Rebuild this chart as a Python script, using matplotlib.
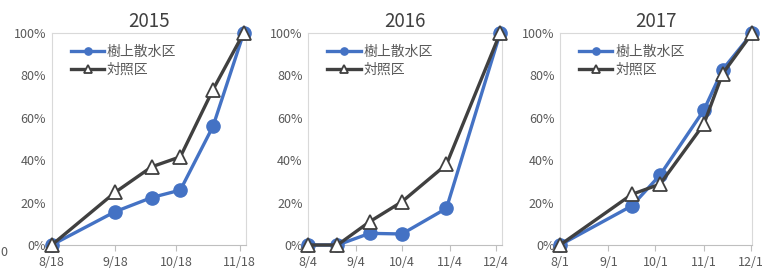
import matplotlib
matplotlib.use("Agg")
import matplotlib.pyplot as plt
import pandas as pd

plt.rcParams['font.family'] = ['Noto Sans CJK JP', 'DejaVu Sans']

years = ['2015', '2016', '2017']

# survey dates per year
dates_2015 = ['2015-08-18', '2015-09-18', '2015-10-06', '2015-10-20', '2015-11-05', '2015-11-20']
dates_2016 = ['2016-08-04', '2016-08-23', '2016-09-13', '2016-10-04', '2016-11-02', '2016-12-07']
dates_2017 = ['2017-08-01', '2017-09-16', '2017-10-04', '2017-11-01', '2017-11-13', '2017-12-02']

# cumulative ratio (%)
spray_2015 = [0, 15.7, 22.4, 25.9, 56.0, 100]
control_2015 = [0, 24.8, 36.9, 41.6, 73.3, 100]
spray_2016 = [0, 0, 5.5, 5.2, 17.3, 100]
control_2016 = [0, 0, 11.0, 20.4, 38.0, 100]
spray_2017 = [0, 18.5, 33.0, 63.6, 82.7, 100]
control_2017 = [0, 23.9, 28.7, 57.0, 80.8, 100]

tick_dates_2015 = ['2015-08-18', '2015-09-18', '2015-10-18', '2015-11-18']
tick_dates_2016 = ['2016-08-04', '2016-09-04', '2016-10-04', '2016-11-04', '2016-12-04']
tick_dates_2017 = ['2017-08-01', '2017-09-01', '2017-10-01', '2017-11-01', '2017-12-01']

x_ends = [('2015-08-18', '2015-11-21'), ('2016-08-04', '2016-12-08'), ('2017-08-01', '2017-12-02')]

labels = ['樹上散水区', '対照区']

panels = [
    (dates_2015, spray_2015, control_2015, tick_dates_2015),
    (dates_2016, spray_2016, control_2016, tick_dates_2016),
    (dates_2017, spray_2017, control_2017, tick_dates_2017),
]

blue = '#4472C4'
dark = '#404040'
text_gray = '#595959'
grid_gray = '#D9D9D9'

fig = plt.figure(figsize=(7.71, 2.73), dpi=100)
lefts = [51.7, 308.3, 560.0]
widths = [194.0, 193.4, 192.3]
bottom = 1 - 245 / 273
height = 212 / 273

for i, (dts, sp, ct, tks) in enumerate(panels):
    ax = fig.add_axes([lefts[i] / 771, bottom, widths[i] / 771, height])
    x = pd.to_datetime(dts)
    ax.plot(x, sp, color=blue, lw=2.4, marker='o', ms=9.5,
            mfc=blue, mec=blue, label=labels[0], clip_on=False, zorder=3)
    ax.plot(x, ct, color=dark, lw=2.4, marker='^', ms=10,
            mfc='white', mec=dark, mew=1.3, label=labels[1], clip_on=False, zorder=4)

    ax.set_xlim(pd.to_datetime(x_ends[i][0]), pd.to_datetime(x_ends[i][1]))
    ax.set_ylim(0, 100)
    ax.set_yticks([0, 20, 40, 60, 80, 100])
    ax.set_yticklabels([f'{v}%' for v in [0, 20, 40, 60, 80, 100]])
    tick_x = pd.to_datetime(tks)
    ax.set_xticks(tick_x)
    ax.set_xticklabels([f'{d.month}/{d.day}' for d in tick_x])

    for s in ax.spines.values():
        s.set_color(grid_gray)
        s.set_linewidth(0.8)
    ax.spines['bottom'].set_color('#BFBFBF')
    ax.tick_params(axis='y', length=0, labelsize=9, labelcolor=text_gray, pad=4)
    ax.tick_params(axis='x', length=4, color='#BFBFBF', labelsize=9,
                   labelcolor=text_gray, pad=4)
    ax.set_title(years[i], fontsize=13.5, color=dark, pad=4)

    ax.legend(loc='upper left', bbox_to_anchor=(0.07, 0.97), frameon=False,
              fontsize=10, labelcolor=text_gray, handlelength=2.4,
              handletextpad=0.2, labelspacing=0.3, markerscale=0.55,
              borderaxespad=0)

fig.text(0.0, 1 - 253 / 273, '0', fontsize=9, color=text_gray, va='center', ha='left')

fig.savefig('out.png', dpi=100)
